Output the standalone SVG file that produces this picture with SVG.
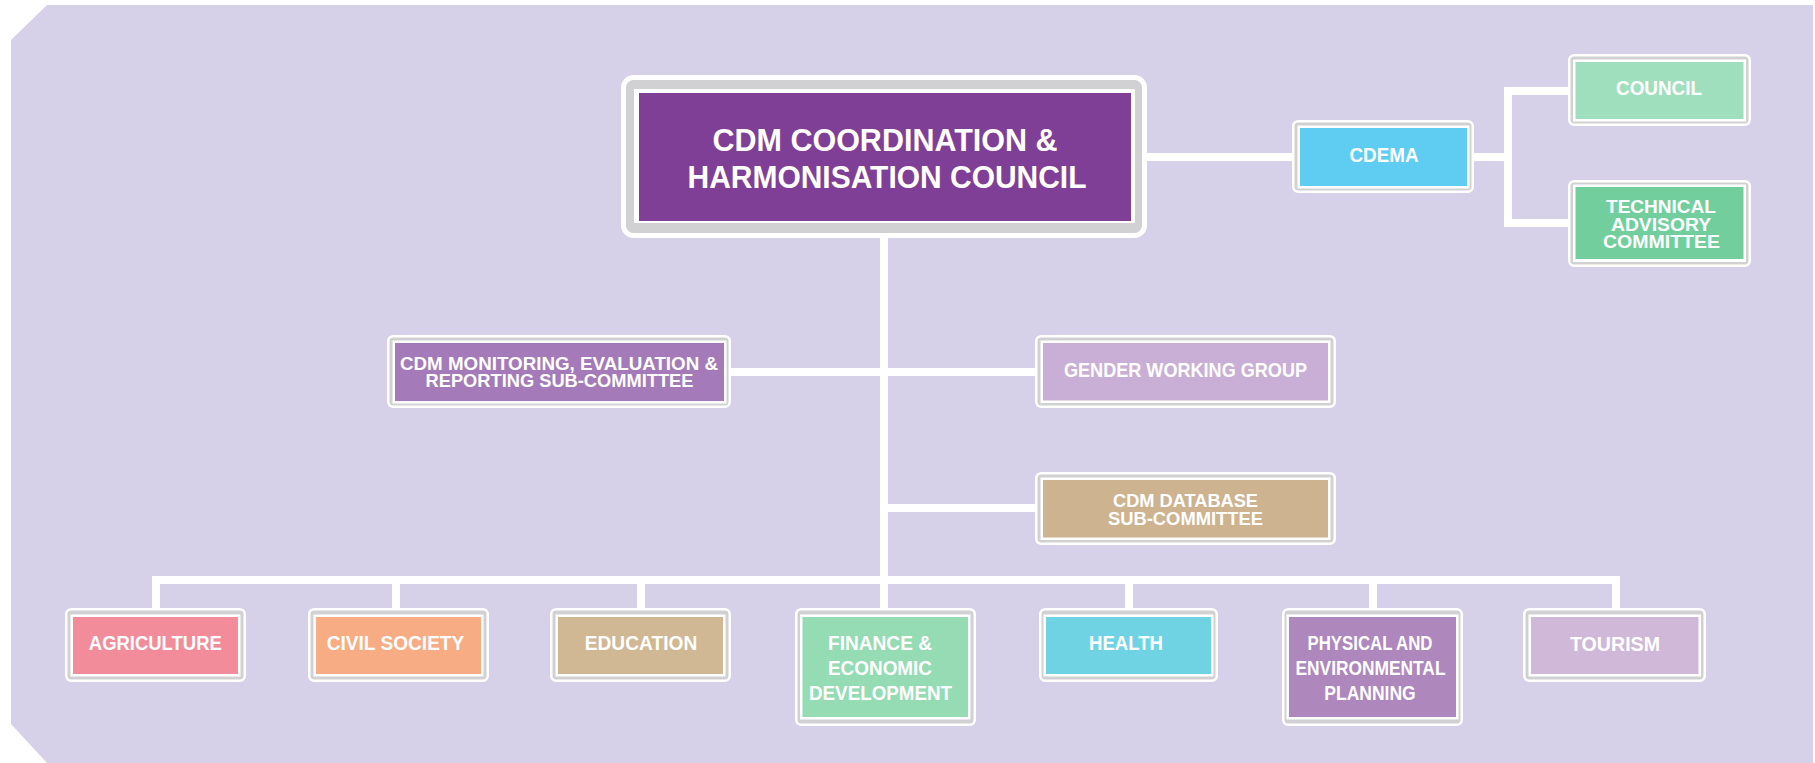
<svg xmlns="http://www.w3.org/2000/svg" width="1815" height="763" viewBox="0 0 1815 763">
<style>
.o{fill:#d1d1d3;stroke:#fff;stroke-width:2.5}
.oc{fill:#d1d1d3;stroke:#fff;stroke-width:5}
.w{fill:#fff}
.t{font-family:"Liberation Sans Narrow","Liberation Sans",Arial,sans-serif;font-weight:bold;fill:#fff;text-anchor:middle}
.s19{font-size:19.5px}
.s18{font-size:18px}
.s17{font-size:17.5px}
.s31{font-size:31.5px}
.ln{stroke:#fff;stroke-width:8;fill:none;stroke-linecap:butt;stroke-linejoin:miter}
</style>
<rect x="0" y="0" width="1815" height="763" fill="#ffffff"/>
<polygon points="47,5 1813,5 1813,763 47,763 11,724 11,40" fill="#d6d1e8"/>
<g id="connectors">
<line class="ln" x1="1147" y1="157" x2="1292" y2="157"/>
<line class="ln" x1="1474" y1="157" x2="1508" y2="157"/>
<polyline class="ln" points="1568,91 1508,91 1508,223 1568,223"/>
<line class="ln" x1="884" y1="238" x2="884" y2="580"/>
<line class="ln" x1="731" y1="372" x2="1035" y2="372"/>
<line class="ln" x1="884" y1="508" x2="1035" y2="508"/>
<polyline class="ln" points="156,608 156,580 1616,580 1616,608"/>
<line class="ln" x1="396" y1="580" x2="396" y2="608"/>
<line class="ln" x1="641" y1="580" x2="641" y2="608"/>
<line class="ln" x1="884" y1="580" x2="884" y2="608"/>
<line class="ln" x1="1129" y1="580" x2="1129" y2="608"/>
<line class="ln" x1="1373" y1="580" x2="1373" y2="608"/>
</g>
<g id="cdm-council">
<rect class="oc" x="623.5" y="77.5" width="521" height="158" rx="10"/>
<rect class="w" x="634" y="89" width="501" height="134"/>
<rect x="639" y="93" width="492" height="128" fill="#7f3f97"/>
<text class="t s31" x="885" y="151" textLength="345" lengthAdjust="spacingAndGlyphs">CDM COORDINATION &amp;</text>
<text class="t s31" x="887" y="188" textLength="399" lengthAdjust="spacingAndGlyphs">HARMONISATION COUNCIL</text>
</g>
<g id="cdema">
<rect class="o" x="1293.25" y="121.25" width="179.5" height="70.5" rx="5"/>
<rect class="w" x="1297.5" y="125.5" width="172" height="63"/>
<rect x="1300" y="128" width="167" height="58" fill="#5fcdf1"/>
<text class="t s19" x="1384" y="162" textLength="69" lengthAdjust="spacingAndGlyphs">CDEMA</text>
</g>
<g id="council">
<rect class="o" x="1569.25" y="55.25" width="180.5" height="69.5" rx="5"/>
<rect class="w" x="1573" y="59.5" width="173" height="62"/>
<rect x="1575.5" y="62" width="168" height="57" fill="#9fdfbd"/>
<text class="t s19" x="1659" y="94.5" textLength="86" lengthAdjust="spacingAndGlyphs">COUNCIL</text>
</g>
<g id="technical-advisory-committee">
<rect class="o" x="1569.25" y="181.25" width="180.5" height="84.5" rx="5"/>
<rect class="w" x="1573" y="184.5" width="173" height="77.5"/>
<rect x="1575.5" y="187" width="168" height="72" fill="#72cf9d"/>
<text class="t s18" x="1661" y="213" textLength="110" lengthAdjust="spacingAndGlyphs">TECHNICAL</text>
<text class="t s18" x="1661" y="231" textLength="100" lengthAdjust="spacingAndGlyphs">ADVISORY</text>
<text class="t s18" x="1661.5" y="248" textLength="117" lengthAdjust="spacingAndGlyphs">COMMITTEE</text>
</g>
<g id="monitoring">
<rect class="o" x="388.25" y="336.25" width="341.5" height="70.5" rx="5"/>
<rect class="w" x="392.5" y="340.5" width="334" height="63"/>
<rect x="395" y="343" width="329" height="58" fill="#a47bb8"/>
<text class="t s17" x="559" y="369.5" textLength="318" lengthAdjust="spacingAndGlyphs">CDM MONITORING, EVALUATION &amp;</text>
<text class="t s17" x="559.5" y="387" textLength="268" lengthAdjust="spacingAndGlyphs">REPORTING SUB-COMMITTEE</text>
</g>
<g id="gender">
<rect class="o" x="1036.25" y="336.25" width="298.5" height="70.5" rx="5"/>
<rect class="w" x="1040.5" y="340.5" width="290" height="62.5"/>
<rect x="1043" y="343" width="285" height="57.5" fill="#c9afd5"/>
<text class="t s19" x="1185.5" y="377" textLength="243" lengthAdjust="spacingAndGlyphs">GENDER WORKING GROUP</text>
</g>
<g id="database">
<rect class="o" x="1036.25" y="473.25" width="298.5" height="70.5" rx="5"/>
<rect class="w" x="1040.5" y="477.5" width="290" height="62.5"/>
<rect x="1043" y="480" width="285" height="57.5" fill="#cdb38f"/>
<text class="t s18" x="1185.5" y="507" textLength="145" lengthAdjust="spacingAndGlyphs">CDM DATABASE</text>
<text class="t s18" x="1185.5" y="525" textLength="155" lengthAdjust="spacingAndGlyphs">SUB-COMMITTEE</text>
</g>
<g id="agriculture">
<rect class="o" x="66.25" y="609.25" width="178.5" height="71.5" rx="5"/>
<rect class="w" x="70.5" y="614.5" width="170" height="62"/>
<rect x="73" y="617" width="165" height="57" fill="#f28c9b"/>
<text class="t s19" x="155.3" y="650" textLength="133" lengthAdjust="spacingAndGlyphs">AGRICULTURE</text>
</g>
<g id="civil-society">
<rect class="o" x="309.25" y="609.25" width="178.5" height="71.5" rx="5"/>
<rect class="w" x="313.5" y="614.5" width="170" height="62"/>
<rect x="316" y="617" width="165" height="57" fill="#f8ac84"/>
<text class="t s19" x="395.5" y="650" textLength="137.5" lengthAdjust="spacingAndGlyphs">CIVIL SOCIETY</text>
</g>
<g id="education">
<rect class="o" x="551.25" y="609.25" width="178.5" height="71.5" rx="5"/>
<rect class="w" x="555.5" y="614.5" width="170" height="62"/>
<rect x="558" y="617" width="165" height="57" fill="#d1b895"/>
<text class="t s19" x="641" y="650" textLength="112.5" lengthAdjust="spacingAndGlyphs">EDUCATION</text>
</g>
<g id="finance">
<rect class="o" x="796.25" y="609.25" width="178.5" height="115.5" rx="5"/>
<rect class="w" x="800" y="614.5" width="170.5" height="105"/>
<rect x="802.5" y="617" width="165.5" height="100" fill="#95dbb4"/>
<text class="t s19" x="880" y="650" textLength="104" lengthAdjust="spacingAndGlyphs">FINANCE &amp;</text>
<text class="t s19" x="880" y="675" textLength="104" lengthAdjust="spacingAndGlyphs">ECONOMIC</text>
<text class="t s19" x="880.5" y="700" textLength="143" lengthAdjust="spacingAndGlyphs">DEVELOPMENT</text>
</g>
<g id="health">
<rect class="o" x="1040.25" y="609.25" width="176.5" height="71.5" rx="5"/>
<rect class="w" x="1043.5" y="614.5" width="170" height="62"/>
<rect x="1046" y="617" width="165" height="57" fill="#6fd3e3"/>
<text class="t s19" x="1126" y="650" textLength="74" lengthAdjust="spacingAndGlyphs">HEALTH</text>
</g>
<g id="physical-environmental-planning">
<rect class="o" x="1283.25" y="609.25" width="178.5" height="115.5" rx="5"/>
<rect class="w" x="1286.5" y="614.5" width="172" height="105"/>
<rect x="1289" y="617" width="167" height="100" fill="#ae87bd"/>
<text class="t s19" x="1370" y="650" textLength="125" lengthAdjust="spacingAndGlyphs">PHYSICAL AND</text>
<text class="t s19" x="1370.5" y="675" textLength="150" lengthAdjust="spacingAndGlyphs">ENVIRONMENTAL</text>
<text class="t s19" x="1370" y="700" textLength="91.5" lengthAdjust="spacingAndGlyphs">PLANNING</text>
</g>
<g id="tourism">
<rect class="o" x="1524.25" y="609.25" width="180.5" height="71.5" rx="5"/>
<rect class="w" x="1528.5" y="614.5" width="172.5" height="62"/>
<rect x="1531" y="617" width="167.5" height="57" fill="#d0b8d8"/>
<text class="t s19" x="1615" y="651" textLength="90" lengthAdjust="spacingAndGlyphs">TOURISM</text>
</g>
</svg>
